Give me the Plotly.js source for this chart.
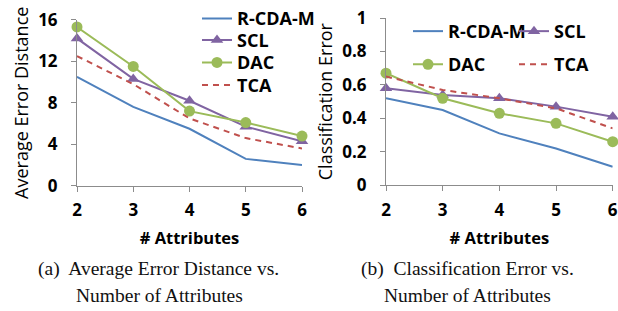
<!DOCTYPE html>
<html><head><meta charset="utf-8">
<script src="https://cdn.plot.ly/plotly-3.0.1.min.js"></script>
<style>html,body{margin:0;padding:0;background:#fff}#c{width:618px;height:311px}</style>
</head><body><div id="c"></div>
<script>
const attributes = [2, 3, 4, 5, 6];
// (a) Average Error Distance
const aedRCDAM = [10.5, 7.6, 5.5, 2.6, 2.0];
const aedSCL   = [14.2, 10.3, 8.2, 5.7, 4.3];
const aedDAC   = [15.3, 11.5, 7.2, 6.1, 4.8];
const aedTCA   = [12.5, 9.8, 6.5, 4.6, 3.6];
// (b) Classification Error
const ceRCDAM = [0.52, 0.45, 0.31, 0.22, 0.11];
const ceSCL   = [0.58, 0.54, 0.52, 0.47, 0.41];
const ceDAC   = [0.67, 0.52, 0.43, 0.37, 0.26];
const ceTCA   = [0.65, 0.57, 0.52, 0.46, 0.34];
const yTicksA = [0, 4, 8, 12, 16];
const yTicksB = [0, 0.2, 0.4, 0.6, 0.8, 1];
const yTickTextB = ['0', '0.2', '0.4', '0.6', '0.8', '1'];

const C = {r: '#4F81BD', s: '#8064A2', d: '#9BBB59', t: '#C0504D'};
const FF = '"Open Sans", Lato, sans-serif';
const fnt = (size, w) => ({family: FF, size: size, color: '#000', weight: w || 'bold'});
const SERIF = '"Liberation Serif", "Times New Roman", serif';
const W = 618, H = 311;

function tr(x, y, name, col, kind, xa, ya, leg) {
  const t = {x: x, y: y, name: name, type: 'scatter', xaxis: xa, yaxis: ya,
    line: {color: col, width: 2}, cliponaxis: false, legend: leg};
  if (kind === 'tri') { t.mode = 'lines+markers'; t.marker = {symbol: 'triangle-up', size: 11, color: col}; }
  else if (kind === 'circ') { t.mode = 'lines+markers'; t.marker = {symbol: 'circle', size: 11, color: col}; }
  else if (kind === 'dash') { t.mode = 'lines'; t.line.dash = '6px,5px'; }
  else { t.mode = 'lines'; }
  return t;
}

const data = [
  tr(attributes, aedRCDAM, 'R-CDA-M', C.r, 'line', 'x', 'y', 'legend'),
  tr(attributes, aedSCL, 'SCL', C.s, 'tri', 'x', 'y', 'legend2'),
  tr(attributes, aedDAC, 'DAC', C.d, 'circ', 'x', 'y', 'legend3'),
  tr(attributes, aedTCA, 'TCA', C.t, 'dash', 'x', 'y', 'legend4'),
  tr(attributes, ceRCDAM, 'R-CDA-M', C.r, 'line', 'x2', 'y2', 'legend5'),
  tr(attributes, ceSCL, 'SCL', C.s, 'tri', 'x2', 'y2', 'legend6'),
  tr(attributes, ceDAC, 'DAC', C.d, 'circ', 'x2', 'y2', 'legend7'),
  tr(attributes, ceTCA, 'TCA', C.t, 'dash', 'x2', 'y2', 'legend8')
];

const axCol = '#8c8c8c';
function xax(dom, anchor) {
  return {domain: dom, anchor: anchor, range: [2, 6], tickvals: attributes, showgrid: false, zeroline: false,
    showline: true, linecolor: axCol, linewidth: 1, ticks: 'outside', ticklen: 5, tickcolor: axCol,
    tickfont: fnt(17), ticklabelstandoff: 4,
    title: {text: '# Attributes', font: fnt(16.5), standoff: 12}};
}
function yax(dom, anchor, range, tv, tt, title) {
  const a = {domain: dom, anchor: anchor, range: range, tickvals: tv, showgrid: false, zeroline: false,
    showline: true, linecolor: axCol, linewidth: 1, ticks: 'outside', ticklen: 5, tickcolor: axCol,
    tickfont: fnt(17), ticklabelstandoff: 10,
    title: {text: title, font: fnt(18, 'normal'), standoff: 4}};
  if (tt) a.ticktext = tt;
  return a;
}

function leg(xText, yCenter) {
  return {bgcolor: 'rgba(0,0,0,0)', font: fnt(18), xanchor: 'left', yanchor: 'middle', itemwidth: 30,
    x: (xText - 40) / W, y: (H - yCenter) / H};
}

function cap(text, xc, yc) {
  return {text: text, x: xc / W, y: (H - yc) / H, xref: 'paper', yref: 'paper', showarrow: false,
    xanchor: 'center', yanchor: 'middle', font: {family: SERIF, size: 19.5, color: '#111'}};
}

const layout = {
  width: W, height: H, margin: {l: 0, r: 0, t: 0, b: 0}, paper_bgcolor: '#fff', plot_bgcolor: '#fff',
  showlegend: true,
  xaxis: xax([77 / W, 302 / W], 'y'),
  yaxis: yax([(H - 183) / H, (H - 13) / H], 'x', [0, 16], yTicksA, null, 'Average Error Distance'),
  xaxis2: xax([386 / W, 612.7 / W], 'y2'),
  yaxis2: yax([(H - 182.3) / H, (H - 11.3) / H], 'x2', [0, 1], yTicksB, yTickTextB, 'Classification Error'),
  legend: leg(237, 12),
  legend2: leg(237, 34),
  legend3: leg(237, 57),
  legend4: leg(237, 80),
  legend5: leg(448, 25),
  legend6: leg(554, 25),
  legend7: leg(448, 59),
  legend8: leg(554, 59),
  annotations: [
    cap('(a)  Average Error Distance vs.', 158.5, 268),
    cap('Number of Attributes', 159, 295),
    cap('(b)  Classification Error vs.', 467.5, 268),
    cap('Number of Attributes', 467, 295)
  ]
};

Plotly.newPlot('c', data, layout, {displayModeBar: false, staticPlot: true});
</script></body></html>
